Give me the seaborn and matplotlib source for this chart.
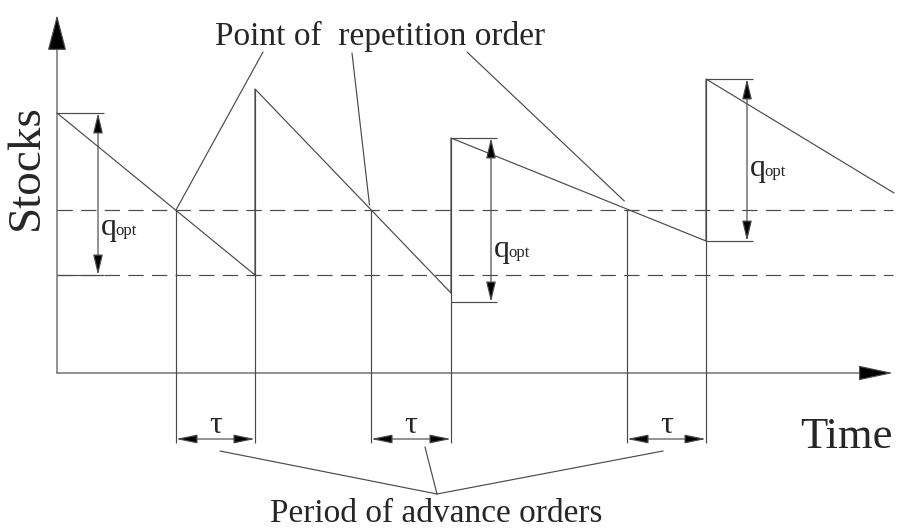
import numpy as np
import pandas as pd
import seaborn as sns
import matplotlib.pyplot as plt

# stock level over time (time counted from the stock axis, stock from the time axis)
saw_t = [0, 198, 198, 394, 394, 649, 649, 837]
saw_q = [260, 98, 284, 80, 235, 132, 294, 180]

reorder_level = 163            # upper dashed line
safety_level = 98              # lower dashed line
reorder_t = [119, 314, 570]    # point of repetition order
delivery_t = [198, 394, 649]   # order arrives

# q_opt dimension arrows
qopt_from = [0, 394, 649]
qopt_x = [41, 434, 690]
qopt_top = [260, 235, 294]
qopt_bot = [98, 71, 132]
qopt_label_y = [138, 116, 197]

# leader lines
leader_gap = [0, 5, 9]
leader_end_t = [206, 295, 410]
leader_end_q = [321, 320, 321]
period_end_t = [163, 368, 606]
period_end_q = [-78, -74, -78]
period_hub = (380, -121)

tau_level = -66
line_bottom = -70

sns.set_style("white")
plt.rcParams['font.family'] = ['Liberation Serif', 'DejaVu Serif']

line_c = '#4a4a4a'
lw = 0.85

fig = plt.figure(figsize=(8.99, 5.29), dpi=100)
ax = fig.add_axes([0, 0, 1, 1])

#一、锯齿线
df = pd.DataFrame({'t': saw_t, 'q': saw_q})
sns.lineplot(data=df, x='t', y='q', sort=False, estimator=None, color=line_c, lw=lw, ax=ax)

#二、虚线
ax.hlines([reorder_level, safety_level], 0, 836, colors=line_c, lw=lw, linestyles=(0, (13, 7)))

#三、竖线
peaks = saw_q[2::2]
ax.vlines(reorder_t, line_bottom, reorder_level, colors=line_c, lw=lw)
ax.vlines(delivery_t, line_bottom, peaks, colors=line_c, lw=lw)


def arrow(x0, y0, x1, y1, style, hl, hw):
    ax.annotate("", xy=(x1, y1), xytext=(x0, y0),
                arrowprops=dict(arrowstyle=f"{style},head_length={hl},head_width={hw}",
                                ec=line_c, fc='black', lw=lw, shrinkA=0, shrinkB=0,
                                mutation_scale=10))


# axes
arrow(0, 0, 0, 358, '-|>', 2.3, 0.6)
arrow(0, 0, 836, 0, '-|>', 2.2, 0.47)

# q_opt
for i in range(3):
    ax.hlines([qopt_top[i], qopt_bot[i]], qopt_from[i], qopt_x[i] + 6, colors=line_c, lw=lw)
    arrow(qopt_x[i], qopt_bot[i], qopt_x[i], qopt_top[i], '<|-|>', 1.25, 0.3)
    ax.text(qopt_x[i] + 3, qopt_label_y[i], 'q', fontsize=23, va='baseline', ha='left')
    ax.text(qopt_x[i] + 17, qopt_label_y[i], 'opt', fontsize=12, va='baseline', ha='left')

# tau
for a, b in zip(reorder_t, delivery_t):
    arrow(a, tau_level, b, tau_level, '<|-|>', 1.3, 0.27)
    ax.text((a + b) / 2, tau_level + 6, 'τ', fontsize=23, ha='center', va='baseline')

# leaders
for i in range(3):
    ax.plot([reorder_t[i] - leader_gap[i] * 0.3, leader_end_t[i]],
            [reorder_level + leader_gap[i], leader_end_q[i]], color=line_c, lw=lw)
    ax.plot([period_hub[0], period_end_t[i]], [period_hub[1], period_end_q[i]], color=line_c, lw=lw)

ax.text(323, 328, 'Point of  repetition order', fontsize=24, ha='center', va='baseline')
ax.text(379, -149, 'Period of advance orders', fontsize=24, ha='center', va='baseline')
ax.text(743, -75, 'Time', fontsize=32, ha='left', va='baseline')
ax.text(-30, 206, 'Stocks', fontsize=34, rotation=90, ha='center', va='center')

ax.set_xlim(-57, 842)
ax.set_ylim(-156, 373)
ax.axis('off')

plt.savefig('out.png', dpi=100)
